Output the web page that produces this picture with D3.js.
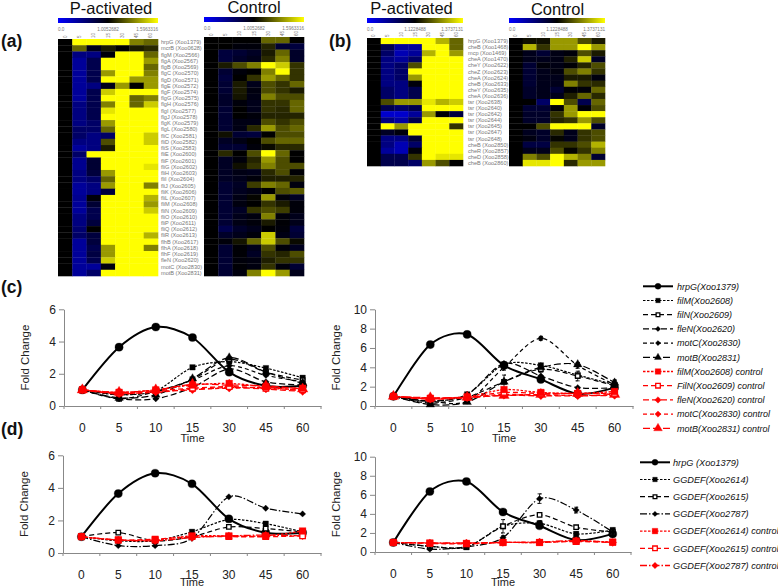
<!DOCTYPE html>
<html><head><meta charset="utf-8">
<script src="https://cdn.jsdelivr.net/npm/d3@7/dist/d3.min.js"></script>
<style>html,body{margin:0;padding:0;background:#fff}svg{display:block}text{font-family:"Liberation Sans",Arial,sans-serif}</style>
</head><body><svg id="c" width="778" height="587"></svg>
<script>
// ---------- heatmap data ----------
const columns=["0","5","10","15","30","45","60"];
const genesA=["hrpG (Xoo1379)","mcrB (Xoo0628)","flgM (Xoo2566)","flgA (Xoo2567)","flgB (Xoo2569)","flgC (Xoo2570)","flgD (Xoo2571)","flgE (Xoo2572)","flgF (Xoo2574)","flgG (Xoo2575)","flgH (Xoo2576)","flgI (Xoo2577)","flgJ (Xoo2578)","flgK (Xoo2579)","flgL (Xoo2580)","fliC (Xoo2581)","fliD (Xoo2582)","fliS (Xoo2583)","fliE (Xoo2600)","fliF (Xoo2601)","fliG (Xoo2602)","fliH (Xoo2603)","fliI (Xoo2604)","fliJ (Xoo2605)","fliK (Xoo2606)","fliL (Xoo2607)","fliM (Xoo2608)","fliN (Xoo2609)","fliO (Xoo2610)","fliP (Xoo2611)","fliQ (Xoo2612)","fliR (Xoo2613)","flhB (Xoo2617)","flhA (Xoo2618)","flhF (Xoo2619)","fleN (Xoo2620)","motC (Xoo2830)","motB (Xoo2831)"];
const genesB=["hrpG (Xoo1379)","cheB (Xoo1468)","mcp (Xoo1469)","cheA (Xoo1470)","cheY (Xoo2622)","cheZ (Xoo2623)","cheA (Xoo2624)","cheB (Xoo2633)","cheY (Xoo2635)","cheA (Xoo2636)","tsr (Xoo2638)","tsr (Xoo2640)","tsr (Xoo2642)","tsr (Xoo2644)","tsr (Xoo2645)","tsr (Xoo2647)","tsr (Xoo2648)","cheB (Xoo2850)","cheR (Xoo2857)","cheD (Xoo2858)","cheB (Xoo2860)"];
const heatAP=[[5,10,10,10,10,7.5,7],[5,7,4.5,5.5,5,5.5,5.8],[5,2.5,2.5,4.8,10,10,7],[5,2,3.5,10,10,10,8],[5,2,3.5,10,10,10,7],[5,2,3.5,8,10,10,7.5],[5,2,3.5,10,10,8,8],[5,2,2.5,4.5,8,5,8],[5,2,3.5,9,10,10,10],[5,2,3.5,10,10,7,7.5],[5,2.5,3.5,7.5,10,7,9],[5,2.5,3.5,9.5,10,10,10],[5,2.5,3.5,10,10,10,10],[5,2.5,3,8,10,10,10],[5,3,3,7,10,10,10],[5,3,2.5,3,10,10,9],[5,2.5,2.5,6.5,10,10,9],[5,2,2.5,5.5,10,10,10],[5,3,10,10,10,10,10],[5,2.2,4,10,10,10,10],[5,2.2,4,10,10,10,9.5],[5,2.5,3.8,8,10,10,10],[5,2.5,3,7,10,10,10],[5,2,2.5,8,10,10,7.5],[5,2,2.5,3.8,10,10,10],[5,2.2,4.8,10,10,10,8.5],[5,2,4,10,10,10,8],[5,2,3.5,10,10,10,9],[5,2.5,3.5,10,10,10,10],[5,2.5,3.8,10,10,10,10],[5,2.8,5,10,10,10,10],[5,3,3.8,10,10,10,8.5],[5,2,3.8,10,10,10,10],[5,2,3.5,8,10,10,7.5],[5,2,3.7,8,10,10,10],[5,2,3.5,9,10,10,10],[5,2,2,4.7,10,10,10],[5,2,3,10,10,10,10]];
const heatAC=[[5,5,5,5,7,7,5],[5,5,4.8,4.8,5.7,4,3.8],[5,3.8,4,4.3,5.5,7,4.2],[5,3.8,4.2,4.5,5.8,7.5,4.2],[5,5.5,6.5,7.5,10,9,6],[5,4,4.8,5,7.5,10,6],[5,3.8,5,6,8,7,6],[5,4,5.5,4.5,6.5,6,7],[5,4,5.5,4.7,6.5,6,5.5],[5,4.2,5.4,4.6,7.5,6.5,6.5],[5,4.2,4.8,4.5,6,6,7],[5,4,5,4.5,6,5.8,7],[5,4,5,4.8,5.7,5.7,5.7],[5,4,4.6,4.6,6.5,6,6.5],[5,4,4.6,5.8,8,6.5,7],[5,5.3,4,3.8,5,6.5,6.5],[5,4.3,4.6,5,6.5,7,7],[5,4,4,4.8,5.2,5.8,5.8],[5,5.8,5,6.5,10,7,5],[5,4.3,4.8,5.7,8,6.5,5],[5,4.3,5.3,6,7.5,6.5,6.5],[5,4.3,4.6,4.5,5.8,6.5,4.9],[5,4.3,4.5,4.8,5.6,5.6,5.7],[5,4,4.3,6.2,7.5,7,4.7],[5,4,4.4,4.6,5,6.5,6.8],[5,4,4.6,5.1,8,4.8,4.3],[5,4,4.7,5,6,5.5,4.8],[5,4,4.3,6,6.5,6.2,4.8],[5,4,4.5,4.7,7.5,4.8,4.5],[5,4,4.6,4.8,5.5,4.9,4.5],[5,3.5,4.2,4.5,5,4.8,3.8],[5,4.2,4.5,4.8,9,4.6,4],[5,4.8,5.4,7,9,6.5,5.2],[5,4,4.9,4.5,6.5,4.8,4.4],[5,4,4.9,4.3,6,5.7,6.5],[5,4,4.8,4.7,5.6,6,6],[5,4,4.9,4.7,6,4.8,4],[5,4,4.7,7.5,10,8,4.5]];
const heatBP=[[5,10,10,10,10,8.5,7],[5,3.5,2,2,10,10,7],[5,3,1.5,2,8.5,10,8],[5,2.5,2,3,10,10,10],[5,2.5,3,6.5,10,10,10],[5,2.5,3,10,10,10,10],[5,2.5,3,8,10,10,10],[5,2.5,2.5,4.8,10,10,10],[5,3,2.5,3.5,10,10,10],[5,3,2.5,3.5,10,10,10],[5,6.5,8,8,9.5,8.5,9],[5,3.5,3,3.5,10,10,10],[5,1,1,2,8,4.9,3.8],[5,2.5,1.8,3.5,10,10,10],[5,10,8,10,10,10,6],[5,4.3,4.8,10,10,10,10],[5,2.5,2.5,4,10,10,10],[5,2.5,1.5,3,10,10,10],[5,2,1.5,4.8,10,10,10],[5,3.5,3.5,6,10,9.5,9.5],[5,3.5,3.5,3,8,6.5,5]];
const heatBC=[[5,5.3,5.3,8,8,6.5,5.5],[5,8.5,6,8,8,10,8],[5,4.5,4,4.6,4.8,6.5,5.5],[5,4.5,4.5,4.6,5.6,9,4.3],[5,4,4.8,4.6,4.9,5.7,6.5],[5,4,4.5,4.7,6.5,7.5,6],[5,4,4.5,4.5,5.5,5.5,4.7],[5,4,4.5,4.5,7.5,6,5.8],[5,4.2,4.5,4,4.9,4.8,7],[5,4.2,4.5,4.5,5.6,7,5.8],[5,5,3,10,6.5,3.5,7],[5,4,4,4.9,8,4.9,6.5],[5,4.2,4.2,6,8,10,10],[5,4.2,4.2,5.7,6,8,6.5],[5,5,6.5,10,10,10,4.2],[5,4.4,4.2,5.8,4.5,6,6.5],[5,4.7,4.2,5.1,4.5,6,6.5],[5,3.7,3.7,6,6,6.5,8.5],[5,4.5,4.5,6.5,5.1,6,7.5],[5,7.5,6.5,10,8.5,7.5,4],[5,9.5,9.5,10,5.8,8,8]];
// ---------- time-course data ----------
const times=["0","5","10","15","30","45","60"];
const hrpG1=[1,3.65,4.9,4.25,2.1,1.25,1.25], hrpG2=[1,6.35,7.4,4.2,2.75,1.25,1.9];
const cL_filM=[1,.7,.95,2.4,2.75,2.35,1.75], cL_filN=[1,.45,.9,1.65,2.9,2.1,1.6], cL_fleN=[1,.45,.45,1.15,2.3,1.5,1.3], cL_motC=[1,.7,.9,1.6,2.5,1.9,1.5], cL_motB=[1,.5,.7,1.7,3,2.1,1.4];
const cL_ctlM=[1,.85,1,1.3,1.4,1.2,1.1], cL_ctlN=[1,.8,.95,1.1,1.2,1.1,1], cL_ctlF=[1,.75,.9,1,1.15,1.05,.9], cL_ctlC=[1,.8,.85,1.05,1.1,1.15,.95], cL_ctlB=[1,.85,1,1.35,1.3,1.25,1.05];
const cR_filM=[1,.5,1.2,4.3,4.2,3.2,2.2], cR_filN=[1,.3,.9,2.5,3.8,3.1,2.1], cR_fleN=[1,.5,1.2,4.4,3.1,1.9,1.9], cR_motC=[1,.5,.5,4,7,4.2,2.2], cR_motB=[1,.15,.4,2.5,4,4.3,2.4];
const cR_ctlM=[1,.8,.95,1.7,1.4,1.3,1.5], cR_ctlN=[1,.75,.9,1.4,1.3,1.3,1.3], cR_ctlF=[1,.7,.85,1.1,1.05,1.05,1.1], cR_ctlC=[1,.8,.9,1.2,1.1,1.1,1.1], cR_ctlB=[1,.85,.9,1.1,1.2,1.3,1.2];
const dL_a=[1,.75,.75,1.3,2.05,1.8,1.3], dL_b=[1,1.25,.75,1,1.6,1.5,1.3], dL_c=[1,.45,.45,.9,3.45,2.75,2.4];
const dL_ca=[1,.8,.8,1.05,1.05,1.05,1.35], dL_cb=[1,.8,.85,1,1,1,1.05], dL_cc=[1,.8,.75,.95,1.05,1.1,1.05];
const dR_a=[1,.6,.5,2.7,3,1.9,2.3], dR_b=[1,.6,.55,2.7,3.9,2.6,2.1], dR_c=[1,.3,.55,1.5,5.6,4.4,2.1];
const dR_ca=[1,.95,.9,1,1,1.15,1.05], dR_cb=[1,.9,.85,1,1,1.1,1], dR_cc=[1,.95,.95,1,1.05,1.2,1];
const errMotC=[0,.1,.1,.3,.2,.3,.5], errFilN=[0,.1,.1,.7,.3,.5,.5], errD2614=[0,.1,.1,.7,.3,.2,.2], errD2787=[0,.1,.1,.2,.5,.3,.2];

const namesC=["hrpG(Xoo1379)","filM(Xoo2608)","filN(Xoo2609)","fleN(Xoo2620)","motC(Xoo2830)","motB(Xoo2831)","filM(Xoo2608) control","FilN(Xoo2609) control","fleN(Xoo2620) control","motC(Xoo2830) control","motB(Xoo2831) control"];
const namesD=["hrpG (Xoo1379)","GGDEF(Xoo2614)","GGDEF(Xoo2615)","GGDEF(Xoo2787)","GGDEF(Xoo2614) control","GGDEF(Xoo2615) control","GGDEF(Xoo2787) control"];

// ---------- styles ----------
const solid={dash:null,sym:d3.symbolCircle,size:52,w:2,fill:"#000"};
const stylesC=[solid,
 {dash:"2.5,1.5",sym:d3.symbolSquare,size:30,w:1.2},{dash:"5,3",sym:d3.symbolSquare,size:20,w:1.2,open:1},
 {dash:"6,3",sym:d3.symbolDiamond2,size:26,w:1.2},{dash:"4,3",sym:d3.symbolDiamond2,size:24,w:1.2},{dash:"7,3",sym:d3.symbolTriangle,size:32,w:1.2}];
const stylesD=[solid,
 {dash:"2.5,1.5",sym:d3.symbolSquare,size:30,w:1.2},{dash:"5,3",sym:d3.symbolSquare,size:20,w:1.2,open:1},{dash:"7,2,1.5,2",sym:d3.symbolDiamond2,size:26,w:1.2}];
const red=s=>({...s,color:"#f00",w:1.3,size:s.size*1.5});

const svg=d3.select("#c");
const defs=svg.append("defs");
const color=d3.scaleLinear().domain([0,5,10]).range(["#0000ff","#000000","#ffff00"]);
const grad=defs.append("linearGradient").attr("id","cb");
[0,5,10].forEach(v=>grad.append("stop").attr("offset",v*10+"%").attr("stop-color",color(v)));

function heat(data,x0,x1,y0,y1,barY,barNums){
  const g=svg.append("g");
  const xs=d3.scaleBand().domain(columns).range([x0,x1]);
  const ys=d3.scaleBand().domain(d3.range(data.length)).range([y0,y1]);
  data.forEach((row,i)=>g.selectAll(null).data(row).join("rect")
    .attr("x",(d,j)=>xs(columns[j])).attr("y",ys(i))
    .attr("width",xs.bandwidth()+.3).attr("height",ys.bandwidth()+.3).attr("fill",d=>color(d)));
  g.append("rect").attr("x",x0).attr("y",barY).attr("width",x1-x0).attr("height",5).attr("fill","url(#cb)");
  const anchor=["start","middle","end"], px=[x0,(x0+x1)/2,x1];
  barNums.forEach((t,i)=>g.append("text").attr("x",px[i]).attr("y",barY+13).attr("text-anchor",anchor[i])
    .attr("font-size",4.6).attr("fill","#777").text(t));
  g.selectAll(null).data(columns).join("text")
    .attr("transform",d=>`translate(${xs(d)+xs.bandwidth()/2+1.5},${y0-1}) rotate(-90)`)
    .attr("font-size",4.6).attr("fill","#777").text(d=>d);
}
function geneLabels(list,x,y0,y1,fs){
  const ys=d3.scaleBand().domain(d3.range(list.length)).range([y0,y1]);
  svg.append("g").selectAll("text").data(list).join("text")
    .attr("x",x).attr("y",(d,i)=>ys(i)+ys.bandwidth()/2+2)
    .attr("font-size",fs).attr("fill","#777").text(d=>d);
}
function label(t,x,y,size,opt={}){
  svg.append("text").attr("x",x).attr("y",y).attr("font-size",size)
    .attr("font-weight",opt.bold?"bold":null).attr("text-anchor",opt.anchor||"start").attr("fill","#111").text(t);
}
heat(heatAP,58,158,39,276,18,["0.0","1.0052682","1.5963316"]);
heat(heatAC,204,304,37,276,17,["0.0","1.0052682","1.5963316"]);
heat(heatBP,367,463,38,166,18,["0.0","1.1228488","1.3737131"]);
heat(heatBC,509,605,38,166,18,["0.0","1.1228488","1.3737131"]);
geneLabels(genesA,161,39,276,5.6);
geneLabels(genesB,468,38,166,5.6);
label("P-activated",111,14,16.5,{anchor:"middle"});
label("Control",254,13,16.5,{anchor:"middle"});
label("P-activated",411.5,14,16.5,{anchor:"middle"});
label("Control",557.5,15,16.5,{anchor:"middle"});
label("(a)",1,47,17.5,{bold:1});
label("(b)",329,47,17.5,{bold:1});
label("(c)",1,293,17.5,{bold:1});
label("(d)",1,435,17.5,{bold:1});

function mark(sel,s,col,k=1){
  sel.attr("d",d3.symbol().type(s.sym).size(s.size*k))
     .attr("fill",s.open?"#fff":col).attr("stroke",col).attr("stroke-width",s.open?1.3:.3);
}
function chart(box,ymax,yticks,series,errs,labY){
  const x=d3.scaleBand().domain(times).range([box.x0,box.x1]);
  const y=d3.scaleLinear().domain([0,ymax]).range([box.y0,box.y1]);
  const g=svg.append("g");
  const xa=g.append("g").attr("transform",`translate(0,${box.y0})`)
    .call(d3.axisBottom(x).tickSize(0).tickPadding(14));
  xa.select(".domain").attr("stroke","#888");
  xa.selectAll("text").attr("font-size",12).attr("fill","#222").attr("font-family","Liberation Sans").attr("dy","1em");
  g.selectAll(null).data(d3.range(8)).join("line")
    .attr("x1",i=>box.x0+i*x.bandwidth()).attr("x2",i=>box.x0+i*x.bandwidth())
    .attr("y1",box.y0).attr("y2",box.y0+3).attr("stroke","#888");
  const ya=g.append("g").attr("transform",`translate(${box.x0},0)`)
    .call(d3.axisLeft(y).tickValues(yticks).tickFormat(d3.format("d")).tickSize(5).tickPadding(3).tickSizeOuter(0));
  ya.selectAll("path,line").attr("stroke","#888");
  ya.selectAll("text").attr("font-size",12).attr("fill","#222").attr("font-family","Liberation Sans");
  g.append("text").attr("transform",`translate(${box.x0-35},${(box.y0+box.y1)/2}) rotate(-90)`)
    .attr("text-anchor","middle").attr("font-size",11.5).attr("fill","#222").text("Fold Change");
  g.append("text").attr("x",(box.x0+box.x1)/2).attr("y",labY).attr("text-anchor","middle")
    .attr("font-size",11).attr("fill","#222").text("Time");
  const line=d3.line().x((d,i)=>x(times[i])+x.bandwidth()/2).y(d=>y(d)).curve(d3.curveCardinal.tension(.1));
  errs.forEach(e=>{
    const sv=series[e.i].v;
    e.err.forEach((er,i)=>{ if(!er) return;
      const cx=x(times[i])+x.bandwidth()/2, hi=y(sv[i]+er), lo=y(Math.max(0,sv[i]-er));
      g.append("path").attr("fill","none").attr("stroke","#000").attr("stroke-width",.8)
        .attr("d",d3.line()([[cx-2,hi],[cx+2,hi],[cx,hi],[cx,lo],[cx-2,lo],[cx+2,lo]]));
    });
  });
  // lines first, then reds on top with the squares last
  const ordered=series.map((s,i)=>({...s,i})).sort((a,b)=>{
    const ra=a.st.color?1:0, rb=b.st.color?1:0;
    return ra!==rb?ra-rb:(ra?b.i-a.i:a.i-b.i);
  });
  ordered.forEach(s=>{
    const col=s.st.color||"#000";
    g.append("path").datum(s.v).attr("d",line).attr("fill","none").attr("stroke",col)
      .attr("stroke-width",s.st.w).attr("stroke-dasharray",s.st.dash);
    g.selectAll(null).data(s.v).join("path")
      .attr("transform",(d,i)=>`translate(${x(times[i])+x.bandwidth()/2},${y(d)})`)
      .call(mark,s.st,col);
  });
}
function legend(names,styles,x0,x1,textX,yFirst,step,fs){
  const pos=d3.scaleLinear().domain([0,1]).range([yFirst,yFirst+step]);
  names.forEach((n,i)=>{
    const s=styles[i],col=s.color||"#000",yy=pos(i);
    svg.append("line").attr("x1",x0).attr("x2",x1).attr("y1",yy).attr("y2",yy)
      .attr("stroke",col).attr("stroke-width",s.w).attr("stroke-dasharray",s.dash);
    svg.append("path").attr("transform",`translate(${(x0+x1)/2},${yy})`).call(mark,s,col,i?.7:.55);
    svg.append("text").attr("x",textX).attr("y",yy+3.2).attr("font-size",fs).attr("font-style","italic").attr("fill","#111").text(n);
  });
}
const sC=stylesC.concat(stylesC.slice(1).map(red));
const sD=stylesD.concat(stylesD.slice(1).map(red));
const mk=(arrs,st)=>arrs.map((v,i)=>({v,st:st[i]}));
chart({x0:64,x1:321,y0:406,y1:309.3},6,[0,2,4,6],mk([hrpG1,cL_filM,cL_filN,cL_fleN,cL_motC,cL_motB,cL_ctlM,cL_ctlN,cL_ctlF,cL_ctlC,cL_ctlB],sC),[],442);
chart({x0:375,x1:633,y0:406,y1:309.3},10,[0,2,4,6,8,10],mk([hrpG2,cR_filM,cR_filN,cR_fleN,cR_motC,cR_motB,cR_ctlM,cR_ctlN,cR_ctlF,cR_ctlC,cR_ctlB],sC),[{i:4,err:errMotC},{i:2,err:errFilN}],442);
chart({x0:63,x1:321,y0:553,y1:455.3},6,[0,2,4,6],mk([hrpG1,dL_a,dL_b,dL_c,dL_ca,dL_cb,dL_cc],sD),[],586);
chart({x0:375,x1:631,y0:552,y1:456.7},10,[0,2,4,6,8,10],mk([hrpG2,dR_a,dR_b,dR_c,dR_ca,dR_cb,dR_cc],sD),[{i:1,err:errD2614},{i:3,err:errD2787}],586);
legend(namesC,sC,643,673,677,286.3,14.2,9);
legend(namesD,sD,640,670,673,462.3,17.2,9.2);
</script></body></html>
